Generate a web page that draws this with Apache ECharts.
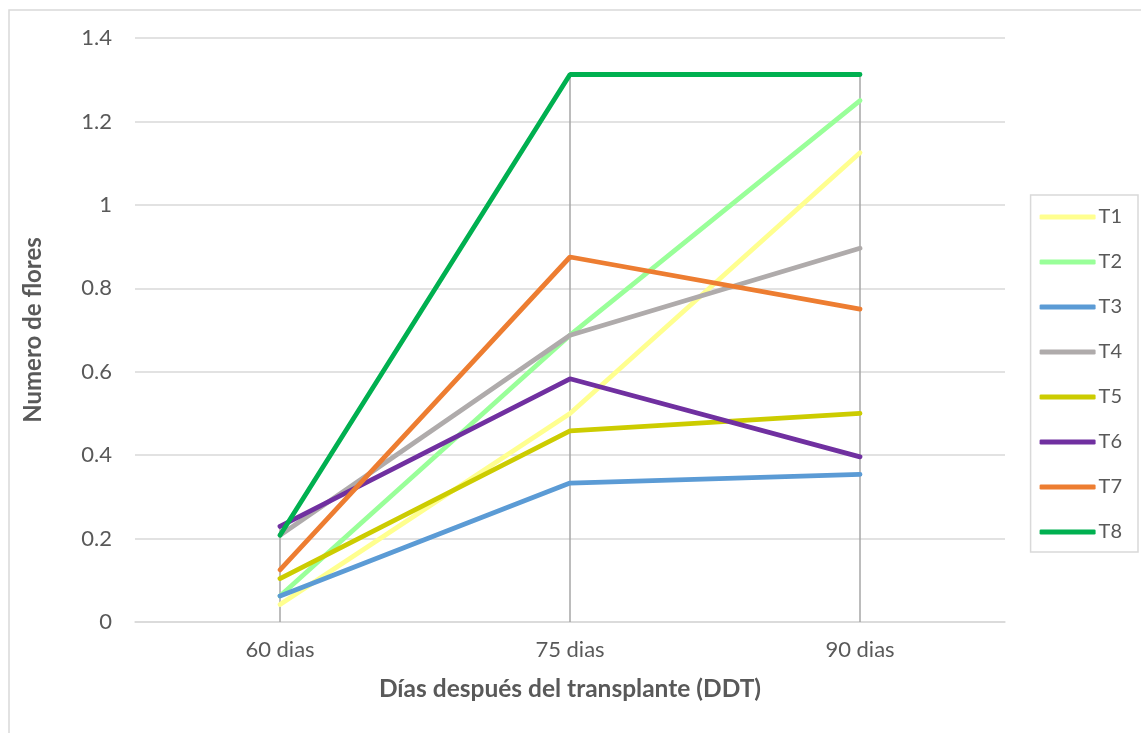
<!DOCTYPE html>
<html>
<head>
<meta charset="utf-8">
<script src="https://cdn.jsdelivr.net/npm/echarts@6/dist/echarts.min.js"></script>
<style>
  html, body { margin: 0; padding: 0; background: #fff; }
  #chart { width: 1141px; height: 733px; }
</style>
</head>
<body>
<div id="chart"></div>
<script>
// categories and values
var categories = ['60 dias', '75 dias', '90 dias'];
var seriesNames = ['T1', 'T2', 'T3', 'T4', 'T5', 'T6', 'T7', 'T8'];
var t1 = [0.042, 0.5, 1.125];
var t2 = [0.0625, 0.6875, 1.25];
var t3 = [0.0625, 0.333, 0.354];
var t4 = [0.208, 0.6875, 0.896];
var t5 = [0.104, 0.458, 0.5];
var t6 = [0.229, 0.583, 0.396];
var t7 = [0.125, 0.875, 0.75];
var t8 = [0.208, 1.3125, 1.3125];
var colors = ['#FFFF8F', '#99FF99', '#5B9BD5', '#AFABAB', '#CCCC00', '#7030A0', '#ED7D31', '#00B050'];

var allValues = [t1, t2, t3, t4, t5, t6, t7, t8];
// drop line height = highest value at each category
var dropTops = categories.map(function (c, i) {
    return Math.max.apply(null, allValues.map(function (s) { return s[i]; }));
});

var chart = echarts.init(document.getElementById('chart'));

var series = [{
    type: 'custom',
    silent: true,
    z: 1,
    data: dropTops.map(function (v, i) { return [i, v]; }),
    renderItem: function (params, api) {
        var bottom = api.coord([api.value(0), 0]);
        var top = api.coord([api.value(0), api.value(1)]);
        return {
            type: 'line',
            shape: { x1: bottom[0], y1: bottom[1], x2: top[0], y2: top[1] },
            style: { stroke: '#A6A6A6', lineWidth: 1.5 }
        };
    }
}];
seriesNames.forEach(function (name, i) {
    series.push({
        name: name,
        type: 'line',
        data: allValues[i],
        showSymbol: false,
        symbol: 'none',
        z: 2,
        lineStyle: { width: 4.8, color: colors[i], cap: 'round' },
        itemStyle: { color: colors[i] }
    });
});

var option = {
    animation: false,
    color: colors,
    textStyle: { fontFamily: 'Lato', color: '#595959' },
    graphic: [{
        type: 'rect',
        shape: { x: 9, y: 10, width: 1145, height: 740 },
        style: { fill: 'none', stroke: '#D9D9D9', lineWidth: 1.5 },
        silent: true
    }],
    grid: { left: 135, right: 136, top: 38, bottom: 111 },
    legend: {
        orient: 'vertical',
        right: 3,
        top: 195,
        data: seriesNames,
        icon: 'roundRect',
        itemWidth: 56,
        itemHeight: 5,
        itemGap: 25,
        padding: [12, 16, 10, 9],
        borderColor: '#D9D9D9',
        borderWidth: 1.5,
        textStyle: { fontFamily: 'Lato', fontSize: 20, color: '#595959', padding: [0, 0, 0, -2] }
    },
    xAxis: {
        type: 'category',
        data: categories,
        boundaryGap: true,
        name: 'Días después del transplante (DDT)',
        nameLocation: 'middle',
        nameGap: 55,
        nameTextStyle: { fontFamily: 'Lato', fontSize: 24.5, fontWeight: 'bold', color: '#595959' },
        axisLine: { show: true, lineStyle: { color: '#D9D9D9', width: 1.5 } },
        axisTick: { show: false },
        axisLabel: { fontSize: 22, color: '#595959', margin: 17 }
    },
    yAxis: {
        type: 'value',
        min: 0,
        max: 1.4,
        interval: 0.2,
        name: 'Numero de flores',
        nameLocation: 'middle',
        nameGap: 90,
        nameTextStyle: { fontFamily: 'Lato', fontSize: 24, fontWeight: 'bold', color: '#595959' },
        axisLine: { show: false },
        axisTick: { show: false },
        axisLabel: {
            fontSize: 22, color: '#595959', margin: 23,
            formatter: function (v) { return String(Math.round(v * 10) / 10); }
        },
        splitLine: { lineStyle: { color: '#D9D9D9', width: 1.5 } }
    },
    series: series
};

chart.setOption(option);
</script>
</body>
</html>
